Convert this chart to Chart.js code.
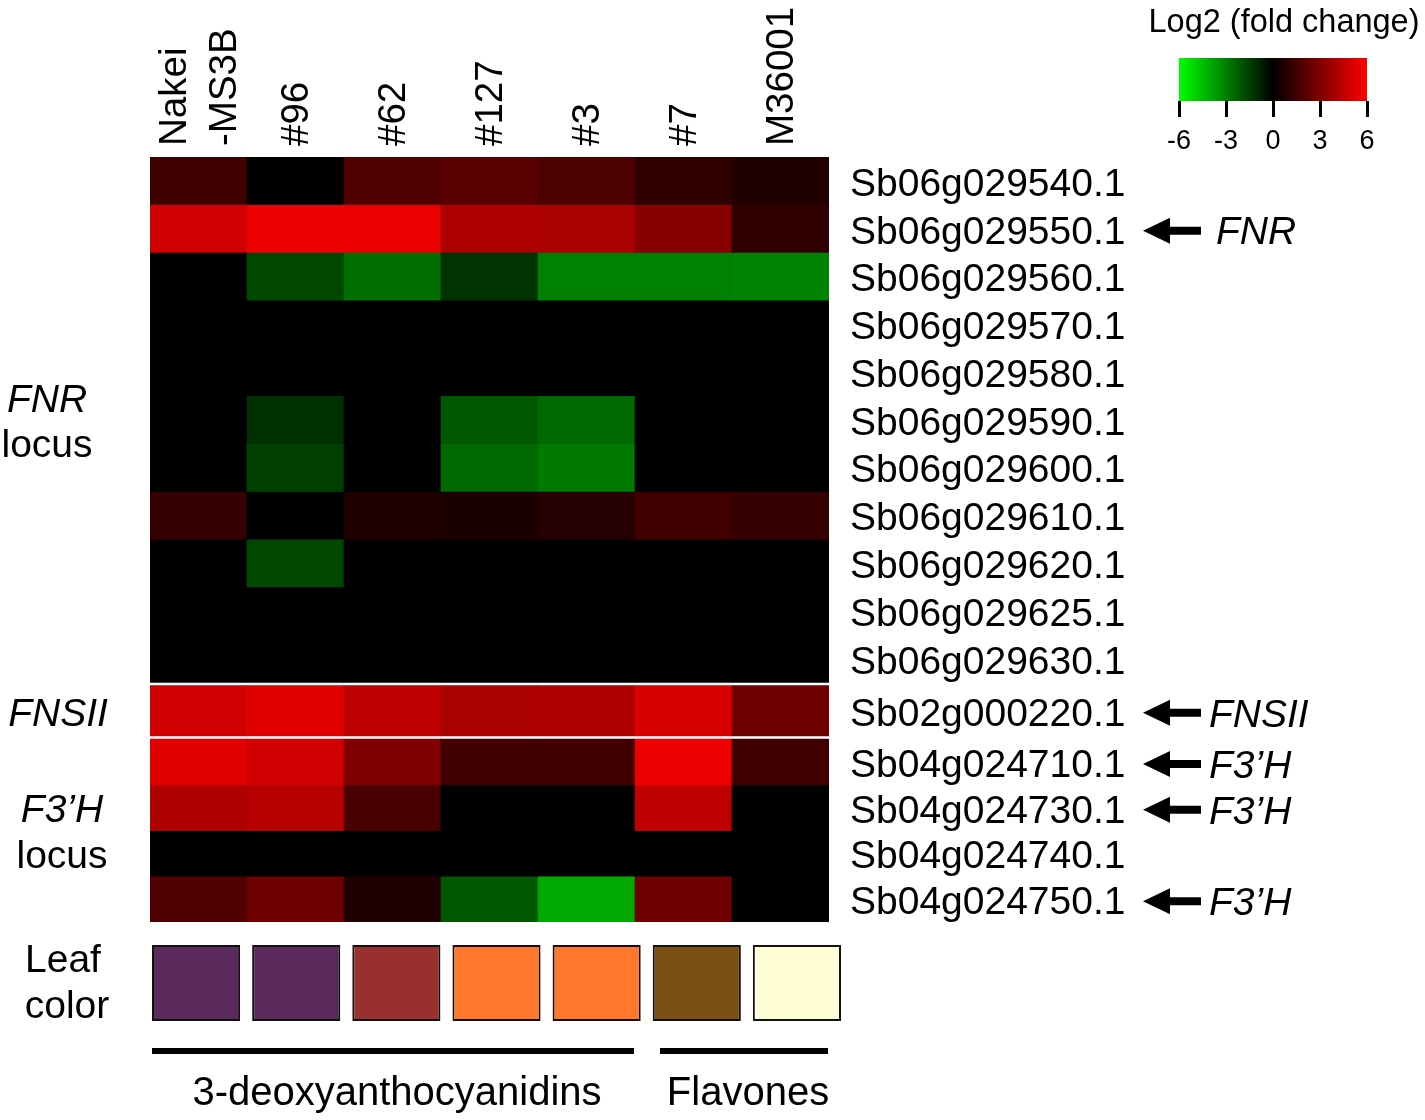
<!DOCTYPE html>
<html>
<head>
<meta charset="utf-8">
<title>Log2 fold change heatmap</title>
<script src="https://cdn.jsdelivr.net/npm/chart.js@4.4.1/dist/chart.umd.min.js"></script>
<style>
  body { margin: 0; background: #fff; }
  #page { position: relative; width: 1425px; height: 1120px; overflow: hidden; background: #fff; }
  canvas { position: absolute; }
</style>
</head>
<body>
<div id="page">
  <canvas id="heat" width="1425" height="1120" style="left:0;top:0"></canvas>
  <canvas id="leaf" width="1425" height="110" style="left:0;top:930px"></canvas>
  <canvas id="bar" width="285" height="160" style="left:1140px;top:0"></canvas>
</div>
<script>
// ---- data ----
const samples = [['Nakei', '-MS3B'], '#96', '#62', '#127', '#3', '#7', 'M36001'];
const genes = [
  'Sb06g029540.1', 'Sb06g029550.1', 'Sb06g029560.1', 'Sb06g029570.1',
  'Sb06g029580.1', 'Sb06g029590.1', 'Sb06g029600.1', 'Sb06g029610.1',
  'Sb06g029620.1', 'Sb06g029625.1', 'Sb06g029630.1', 'Sb02g000220.1',
  'Sb04g024710.1', 'Sb04g024730.1', 'Sb04g024740.1', 'Sb04g024750.1'
];
// which locus block each gene belongs to
const geneBlock = [0, 0, 0, 0, 0, 0, 0, 0, 0, 0, 0, 1, 2, 2, 2, 2];
const blockNames = [['FNR', 'locus'], ['FNSII'], ['F3’H', 'locus']];
// genes pointed at by an arrow, and the name written after it
const markedGenes = [1, 11, 12, 13, 15];
const markedNames = ['FNR', 'FNSII', 'F3’H', 'F3’H', 'F3’H'];

// log2 (fold change), one row per gene, one value per sample
const log2fc = [
  [1.5, 0.0, 1.9, 2.1, 1.8, 1.1, 0.8],
  [4.9, 5.6, 5.5, 4.1, 4.0, 3.2, 1.1],
  [0.0, -1.7, -2.6, -1.2, -3.0, -3.0, -3.1],
  [0.0, 0.0, 0.0, 0.0, 0.0, 0.0, 0.0],
  [0.0, 0.0, 0.0, 0.0, 0.0, 0.0, 0.0],
  [0.0, -1.1, 0.0, -2.1, -2.5, 0.0, 0.0],
  [0.0, -1.5, 0.0, -2.5, -2.9, 0.0, 0.0],
  [1.3, 0.0, 0.75, 0.65, 0.9, 1.5, 1.3],
  [0.0, -1.7, 0.0, 0.0, 0.0, 0.0, 0.0],
  [0.0, 0.0, 0.0, 0.0, 0.0, 0.0, 0.0],
  [0.0, 0.0, 0.0, 0.0, 0.0, 0.0, 0.0],
  [4.9, 5.3, 4.5, 4.0, 4.1, 5.1, 2.6],
  [5.3, 4.9, 3.0, 1.5, 1.5, 5.6, 1.5],
  [4.1, 4.3, 1.7, 0.0, 0.0, 4.5, 0.0],
  [0.0, 0.0, 0.0, 0.0, 0.0, 0.0, 0.0],
  [1.9, 2.6, 0.75, -2.1, -4.0, 2.6, 0.0]
];

const leafColors = ['#5a2a5c', '#5a2a5c', '#9a302e', '#ff782e', '#ff782e', '#7c4f14', '#fffdd6'];
const pigmentNames = ['3-deoxyanthocyanidins', 'Flavones'];
const pigmentFirst = [0, 5];
const pigmentLast = [4, 6];
const scaleTicks = [-6, -3, 0, 3, 6];
const scaleMax = 6;

// ---- helpers ----
const FONT = '"Liberation Sans", Arial, Helvetica, sans-serif';
Chart.defaults.font.family = FONT;
Chart.defaults.color = '#000';

const GAP = 0.07;                        // white line between loci, in row units
const SEAM = 0.04;                       // each row slides under the one above to hide anti-alias seams
const blockRowHeight = [1.0, 1.05, 0.957]; // rows of the three loci are not quite the same height

function fc2color(v) {
  const c = Math.round(255 * Math.min(Math.abs(v), scaleMax) / scaleMax);
  return v >= 0 ? `rgb(${c},0,0)` : `rgb(0,${c},0)`;
}
function rowHeight(i) { return blockRowHeight[geneBlock[i]]; }
function rowStart(i) {
  let s = geneBlock[i] * GAP;
  for (let k = 0; k < i; k++) s += rowHeight(k);
  return s;
}
function rowMid(i) { return rowStart(i) + rowHeight(i) / 2; }
const yMax = rowStart(genes.length - 1) + rowHeight(genes.length - 1);

const heatSets = genes.map((g, i) => {
  const top = rowStart(i) - (i > 0 && geneBlock[i - 1] === geneBlock[i] ? SEAM : 0);
  return {
    label: g,
    data: samples.map(() => [top, rowStart(i) + rowHeight(i)]),
    backgroundColor: log2fc[i].map(fc2color),
    borderWidth: 0,
    grouped: false,
    barPercentage: 1,
    categoryPercentage: 1
  };
});

// annotations drawn around the heatmap: column names, locus labels, arrows, pigment groups
const decorations = {
  id: 'decorations',
  afterDraw(chart) {
    const { ctx, scales: { x, y } } = chart;
    const half = (x.getPixelForValue(1) - x.getPixelForValue(0)) / 2;
    ctx.save();
    ctx.fillStyle = '#000';

    // sample names, rotated, reading upward
    ctx.font = `38.5px ${FONT}`;
    ctx.textAlign = 'left';
    ctx.textBaseline = 'middle';
    samples.forEach((s, j) => {
      const lines = [].concat(s);
      const cx = x.getPixelForValue(j) + 2;
      lines.forEach((line, k) => {
        ctx.save();
        ctx.translate(cx + (k - (lines.length - 1) / 2) * 50, chart.chartArea.top - 11);
        ctx.rotate(-Math.PI / 2);
        ctx.fillText(line, 0, 0);
        ctx.restore();
      });
    });

    // locus names on the left
    const blockX = [47, 58, 62];
    ctx.textAlign = 'center';
    blockNames.forEach((names, b) => {
      const rows = geneBlock.map((g, i) => g === b ? i : -1).filter(i => i >= 0);
      const last = rows[rows.length - 1];
      const mid = (y.getPixelForValue(rowStart(rows[0])) + y.getPixelForValue(rowStart(last) + rowHeight(last))) / 2;
      names.forEach((n, k) => {
        ctx.font = (k === 0 ? 'italic ' : '') + `39px ${FONT}`;
        const dy = (k - (names.length - 1) / 2) * 46;
        ctx.fillText(n, blockX[b], mid + dy + 4);
      });
    });
    ctx.font = `39px ${FONT}`;
    ctx.fillText('Leaf', 63, 961);
    ctx.fillText('color', 67, 1007);

    // arrows pointing at genes of interest
    markedGenes.forEach((gi, k) => {
      const cy = y.getPixelForValue(rowMid(gi)) + 2;
      const tip = 1143, neck = 1170, tail = 1201;
      ctx.beginPath();
      ctx.moveTo(tip, cy);
      ctx.lineTo(neck, cy - 13);
      ctx.lineTo(neck, cy - 4);
      ctx.lineTo(tail, cy - 4);
      ctx.lineTo(tail, cy + 4);
      ctx.lineTo(neck, cy + 4);
      ctx.lineTo(neck, cy + 13);
      ctx.closePath();
      ctx.fill();
      ctx.font = `italic 39px ${FONT}`;
      ctx.textAlign = 'left';
      ctx.fillText(markedNames[k], k === 0 ? 1216 : 1209, cy + 3);
    });

    // pigment group brackets under the leaf colours
    ctx.textAlign = 'center';
    ctx.font = `40px ${FONT}`;
    pigmentNames.forEach((name, g) => {
      const from = x.getPixelForValue(pigmentFirst[g]) - half + (g === 0 ? 2 : 25);
      const to = x.getPixelForValue(pigmentLast[g]) + half - 1;
      ctx.fillRect(from, 1048, to - from, 6);
      ctx.fillText(name, (from + to) / 2 + 4, 1094);
    });
    ctx.restore();
  }
};

new Chart(document.getElementById('heat'), {
  type: 'bar',
  data: { labels: samples.map(s => [].concat(s).join(' ')), datasets: heatSets },
  options: {
    responsive: false,
    animation: false,
    layout: { padding: { left: 150, top: 0, right: 0, bottom: 198 } },
    scales: {
      x: {
        position: 'top',
        grid: { display: false, drawTicks: false },
        border: { display: false },
        ticks: { display: false },
        afterFit(scale) { scale.height = 157; }
      },
      y: {
        position: 'right',
        reverse: true,
        min: 0,
        max: yMax,
        grid: { display: false, drawTicks: false },
        border: { display: false },
        ticks: {
          autoSkip: false,
          padding: 21,
          font: { size: 39 },
          color: '#000',
          callback: (v, idx) => genes[idx]
        },
        // labels sit a little below the row middle, as in the figure
        afterBuildTicks(scale) {
          scale.ticks = genes.map((g, i) => ({ value: rowMid(i) + 0.09 }));
        },
        afterFit(scale) { scale.width = 596; }
      }
    },
    plugins: { legend: { display: false }, tooltip: { enabled: false } }
  },
  plugins: [decorations]
});

// leaf colour swatches
new Chart(document.getElementById('leaf'), {
  type: 'bar',
  data: {
    labels: samples.map(s => [].concat(s).join(' ')),
    datasets: [{
      data: leafColors.map(() => [0, 1]),
      backgroundColor: leafColors,
      borderColor: '#111',
      borderWidth: 2,
      borderSkipped: false,
      barPercentage: 0.88,
      categoryPercentage: 1
    }]
  },
  options: {
    responsive: false,
    animation: false,
    layout: { padding: { left: 146, right: 578, top: 15, bottom: 19 } },
    scales: { x: { display: false }, y: { display: false, min: 0, max: 1 } },
    plugins: { legend: { display: false }, tooltip: { enabled: false } }
  }
});

// colour key
const keyTitle = {
  id: 'keyTitle',
  afterDraw(chart) {
    const { ctx, chartArea } = chart;
    ctx.save();
    ctx.font = `32.5px ${FONT}`;
    ctx.fillStyle = '#000';
    ctx.textAlign = 'center';
    ctx.textBaseline = 'middle';
    ctx.fillText('Log2 (fold change)', (chartArea.left + chartArea.right) / 2 + 11, 23);
    ctx.restore();
  }
};

new Chart(document.getElementById('bar'), {
  type: 'bar',
  data: {
    labels: [''],
    datasets: [{
      data: [[scaleTicks[0], scaleTicks[scaleTicks.length - 1]]],
      backgroundColor(c) {
        const { ctx, chartArea } = c.chart;
        if (!chartArea) return '#000';
        const g = ctx.createLinearGradient(chartArea.left, 0, chartArea.right, 0);
        g.addColorStop(0, fc2color(-scaleMax));
        g.addColorStop(0.5, fc2color(0));
        g.addColorStop(1, fc2color(scaleMax));
        return g;
      },
      borderWidth: 0,
      barPercentage: 1,
      categoryPercentage: 1
    }]
  },
  options: {
    indexAxis: 'y',
    responsive: false,
    animation: false,
    layout: { padding: { left: 39, right: 58, top: 58, bottom: 0 } },
    scales: {
      y: { display: false },
      x: {
        min: scaleTicks[0],
        max: scaleTicks[scaleTicks.length - 1],
        border: { display: false },
        grid: { drawOnChartArea: false, drawTicks: true, tickLength: 16, lineWidth: 3, color: '#000' },
        ticks: { padding: 8, font: { size: 27 }, color: '#000', callback: v => String(v) },
        afterBuildTicks(scale) { scale.ticks = scaleTicks.map(v => ({ value: v })); },
        afterFit(scale) { scale.height = 59; }
      }
    },
    plugins: { legend: { display: false }, tooltip: { enabled: false } }
  },
  plugins: [keyTitle]
});
</script>
</body>
</html>
